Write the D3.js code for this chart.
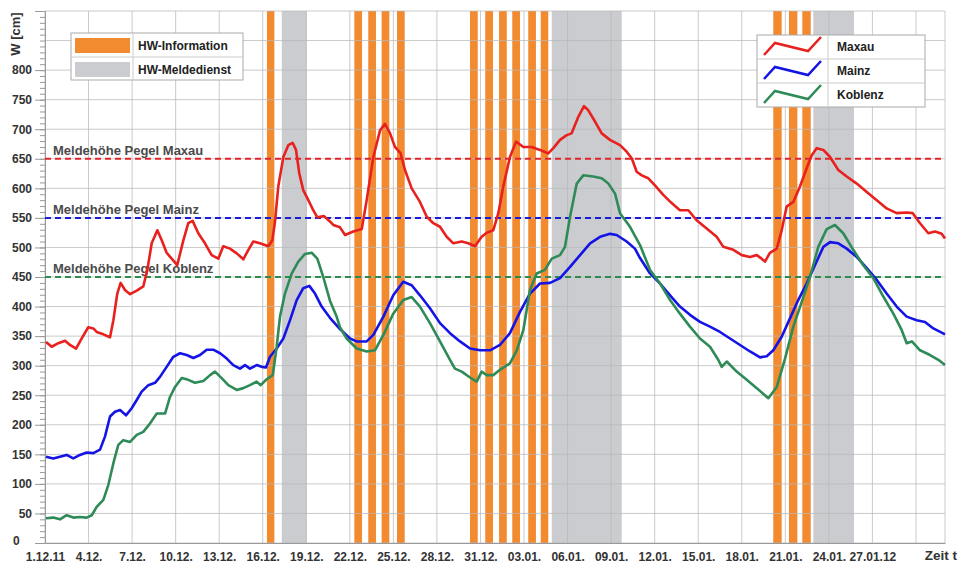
<!DOCTYPE html>
<html>
<head>
<meta charset="utf-8">
<script src="https://cdn.jsdelivr.net/npm/d3@7"></script>
<style>
  body { margin: 0; background: #fff; }
  svg text { font-family: "Liberation Sans", Arial, sans-serif; font-weight: bold; }
</style>
</head>
<body>
<svg id="chart" width="959" height="565"></svg>
<script>
// x axis: days since 1.12.2011
const tickLabels = ['1.12.11', '4.12.', '7.12.', '10.12.', '13.12.', '16.12.', '19.12.', '22.12.', '25.12.', '28.12.',
  '31.12.', '03.01.', '06.01.', '09.01.', '12.01.', '15.01.', '18.01.', '21.01.', '24.01.', '27.01.12'];
const yTicks = [0, 50, 100, 150, 200, 250, 300, 350, 400, 450, 500, 550, 600, 650, 700, 750, 800];

// HW-Information periods [start, end] in days
const hwInfo = [[15.29, 15.80], [21.31, 21.84], [22.27, 22.80], [23.19, 23.72], [24.25, 24.78],
  [29.28, 29.81], [30.33, 30.86], [31.28, 31.81], [32.19, 32.72], [33.29, 33.82], [34.15, 34.67],
  [50.17, 50.75], [51.25, 51.83], [52.17, 52.75]];
// HW-Meldedienst periods
const hwMelde = [[16.31, 18.03], [34.91, 39.73], [52.93, 55.73]];

// Meldehöhen
const levels = [
  { name: 'Meldehöhe Pegel Maxau', value: 650, color: '#e0242a' },
  { name: 'Meldehöhe Pegel Mainz', value: 550, color: '#1b1bd6' },
  { name: 'Meldehöhe Pegel Koblenz', value: 450, color: '#2e8b4f' }
];

// water levels [day, W cm]
const maxau = [[0.07,340],[0.46,332],[0.92,338],[1.38,342],[1.72,335],[2.14,329],[2.53,346],[2.98,365],[3.33,363],
  [3.56,357],[4.02,353],[4.48,348],[4.71,377],[4.98,422],[5.21,440],[5.51,428],[5.86,421],[6.32,427],[6.77,434],
  [7.05,462],[7.35,507],[7.74,529],[8.04,512],[8.38,491],[8.80,479],[9.11,470],[9.53,512],[9.87,541],[10.17,545],
  [10.56,524],[11.02,507],[11.48,487],[11.94,481],[12.28,502],[12.74,498],[13.21,490],[13.66,480],[14.01,496],
  [14.35,510],[14.81,507],[15.38,502],[15.66,512],[15.84,543],[16.07,603],[16.42,653],[16.76,673],[17.06,677],
  [17.29,665],[17.52,625],[17.79,597],[18.14,580],[18.48,563],[18.76,551],[19.22,553],[19.63,544],[19.86,538],
  [20.32,534],[20.67,521],[21.24,527],[21.82,531],[22.16,580],[22.62,653],[23.08,698],[23.42,709],[23.77,693],
  [24.11,670],[24.50,659],[24.80,631],[25.26,600],[25.83,577],[26.30,552],[26.75,541],[27.21,535],[27.67,518],
  [28.13,507],[28.71,510],[29.16,507],[29.62,502],[30.08,518],[30.43,525],[30.88,529],[31.23,558],[31.57,603],
  [32.03,653],[32.45,679],[32.95,670],[33.53,670],[34.10,665],[34.67,659],[35.02,668],[35.48,682],[35.94,690],
  [36.28,693],[36.74,721],[37.13,739],[37.43,732],[37.89,713],[38.35,693],[38.92,682],[39.61,673],[40.07,662],
  [40.42,651],[40.76,628],[41.11,622],[41.56,617],[42.02,605],[42.59,589],[43.17,575],[43.74,563],[44.32,563],
  [44.89,546],[45.58,532],[46.27,518],[46.73,501],[47.42,496],[48.00,487],[48.57,484],[49.03,487],[49.37,481],
  [49.60,476],[49.94,491],[50.41,498],[50.75,529],[51.09,569],[51.55,577],[52.01,603],[52.47,634],[52.82,656],
  [53.16,668],[53.62,665],[54.08,653],[54.65,631],[55.23,620],[55.92,608],[56.61,594],[57.30,580],[57.98,566],
  [58.67,558],[59.36,559],[59.78,558],[60.28,541],[60.85,524],[61.31,527],[61.77,523],[62.0,515]];

const mainz = [[0.07,146],[0.57,143],[1.03,146],[1.49,149],[1.95,143],[2.41,149],[2.87,153],[3.33,152],[3.79,158],
  [4.13,180],[4.48,214],[4.82,222],[5.17,225],[5.58,216],[5.97,228],[6.32,242],[6.66,256],[7.12,267],[7.58,271],
  [7.92,281],[8.38,298],[8.84,315],[9.30,321],[9.76,318],[10.22,313],[10.68,318],[11.14,327],[11.59,327],
  [12.06,321],[12.52,312],[12.97,301],[13.43,295],[13.78,301],[14.12,295],[14.58,301],[14.93,298],[15.22,297],
  [15.50,315],[15.96,329],[16.42,346],[16.88,377],[17.34,411],[17.79,431],[18.21,435],[18.60,422],[19.06,400],
  [19.63,381],[20.32,362],[21.01,346],[21.47,341],[22.16,341],[22.62,352],[23.31,383],[23.99,419],[24.68,442],
  [25.26,436],[25.83,419],[26.52,397],[27.21,372],[27.90,355],[28.59,341],[29.28,329],[29.97,326],[30.66,326],
  [31.34,335],[32.03,355],[32.72,391],[33.41,422],[34.10,439],[34.79,440],[35.48,448],[36.17,467],[36.86,487],
  [37.55,507],[38.24,518],[38.92,523],[39.38,521],[40.07,510],[40.64,498],[40.99,482],[41.68,456],[42.37,439],
  [43.06,419],[43.74,400],[44.43,386],[45.12,374],[45.81,366],[46.50,357],[47.19,346],[47.88,335],[48.57,324],
  [49.26,314],[49.72,316],[50.17,326],[50.75,349],[51.32,380],[51.89,411],[52.47,439],[53.04,470],[53.62,501],
  [54.08,509],[54.65,507],[55.23,498],[55.92,484],[56.61,465],[57.30,445],[57.98,422],[58.67,400],[59.36,383],
  [60.05,377],[60.62,374],[61.20,363],[62.0,353]];

const koblenz = [[0.07,42],[0.57,43],[1.03,40],[1.49,47],[1.95,43],[2.41,44],[2.87,43],[3.22,47],[3.56,61],
  [4.02,73],[4.36,98],[4.71,135],[5.05,166],[5.39,174],[5.86,171],[6.32,183],[6.77,188],[7.23,202],[7.70,219],
  [8.27,219],[8.61,247],[8.96,264],[9.42,279],[9.87,276],[10.33,271],[10.91,274],[11.37,284],[11.71,290],
  [12.17,279],[12.63,267],[13.21,259],[13.66,262],[14.12,267],[14.58,273],[14.86,267],[15.27,277],[15.69,284],
  [15.96,332],[16.19,383],[16.53,422],[17.00,456],[17.45,476],[17.91,489],[18.37,491],[18.76,481],[19.17,450],
  [19.63,410],[20.09,383],[20.32,365],[20.78,346],[21.47,329],[22.16,324],[22.73,326],[23.31,352],[23.99,388],
  [24.68,411],[25.26,416],[25.83,400],[26.52,372],[27.21,341],[27.90,310],[28.24,295],[28.71,290],[29.28,280],
  [29.74,273],[30.08,290],[30.43,284],[30.88,284],[31.34,293],[32.03,304],[32.50,326],[32.95,360],[33.41,428],
  [33.87,456],[34.44,462],[34.91,481],[35.48,487],[35.82,501],[36.17,552],[36.63,608],[37.08,622],[37.77,620],
  [38.35,617],[38.81,608],[39.27,591],[39.61,558],[40.30,535],[40.99,504],[41.68,462],[42.37,439],[43.06,411],
  [43.74,388],[44.43,366],[45.12,346],[45.81,332],[46.38,310],[46.62,298],[46.96,307],[47.65,290],[48.34,276],
  [49.03,262],[49.83,245],[50.41,264],[50.98,312],[51.55,366],[52.13,408],[52.70,450],[53.27,501],[53.85,531],
  [54.42,538],[54.99,524],[55.68,496],[56.37,470],[57.06,448],[57.75,417],[58.44,388],[59.02,360],[59.36,338],
  [59.72,341],[60.28,326],[60.97,318],[61.54,310],[62.0,301]];

const series = [
  { name: 'Maxau', data: maxau, color: '#e8211f' },
  { name: 'Mainz', data: mainz, color: '#1414e6' },
  { name: 'Koblenz', data: koblenz, color: '#2e8b57' }
];

const svg = d3.select('#chart');
const plotLeft = 45, plotRight = 945, plotTop = 11, plotBottom = 543;

const x = d3.scaleLinear().domain([0, 62]).range([plotLeft, plotRight]);
const y = d3.scaleLinear().domain([0, 900]).range([plotBottom, plotTop]);

// periods
svg.append('g').selectAll('rect').data(hwMelde).join('rect')
  .attr('x', d => x(d[0])).attr('width', d => x(d[1]) - x(d[0]))
  .attr('y', plotTop).attr('height', plotBottom - plotTop)
  .attr('fill', '#cbccd0');

svg.append('g').selectAll('rect').data(hwInfo).join('rect')
  .attr('x', d => x(d[0])).attr('width', d => x(d[1]) - x(d[0]))
  .attr('y', plotTop).attr('height', plotBottom - plotTop)
  .attr('fill', '#f28a30');

// grid
const grid = svg.append('g').attr('stroke', '#b8b8b8').attr('stroke-opacity', 0.75);
grid.selectAll('.h').data(d3.range(0, 901, 50)).join('line').attr('class', 'h')
  .attr('x1', plotLeft).attr('x2', plotRight).attr('y1', d => y(d)).attr('y2', d => y(d));
grid.selectAll('.v').data(d3.range(0, 61, 3).concat([62])).join('line').attr('class', 'v')
  .attr('y1', plotTop).attr('y2', plotBottom).attr('x1', d => x(d)).attr('x2', d => x(d));

// y axis
const yMinor = svg.append('g').attr('transform', `translate(${plotLeft},0)`)
  .call(d3.axisLeft(y).tickValues(d3.range(0, 901, 10)).tickSize(5).tickFormat(''));
yMinor.select('.domain').remove();
yMinor.selectAll('line').attr('stroke', '#999');

const yAxis = svg.append('g').attr('transform', `translate(${plotLeft},0)`)
  .call(d3.axisLeft(y).tickValues(yTicks).tickSize(10).tickPadding(3));
yAxis.select('.domain').attr('stroke', '#999');
yAxis.selectAll('line').attr('stroke', '#999');
yAxis.selectAll('text').attr('font-size', 12).attr('fill', '#333');
// the zero label sits further left, clear of the first date
yAxis.selectAll('.tick').filter(d => d === 0).select('text')
  .attr('x', -32).attr('text-anchor', 'start').attr('dy', '0.1em');

svg.append('text')
  .attr('transform', 'translate(17,34) rotate(-90)')
  .attr('text-anchor', 'middle').attr('dominant-baseline', 'middle')
  .attr('font-size', 13).attr('fill', '#333')
  .text('W [cm]');

// x axis
const xAxis = svg.append('g').attr('transform', `translate(0,${plotBottom})`)
  .call(d3.axisBottom(x).tickValues(d3.range(0, 58, 3)).tickFormat((d, i) => tickLabels[i])
    .tickSize(0).tickPadding(9));
xAxis.select('.domain').attr('stroke', '#999');
xAxis.selectAll('text').attr('font-size', 12).attr('fill', '#333');

svg.append('text')
  .attr('x', 957).attr('y', 560)
  .attr('text-anchor', 'end').attr('font-size', 13.5).attr('fill', '#333')
  .text('Zeit t');

// Meldehöhen
svg.append('g').selectAll('line').data(levels).join('line')
  .attr('x1', plotLeft).attr('x2', plotRight)
  .attr('y1', d => y(d.value)).attr('y2', d => y(d.value))
  .attr('stroke', d => d.color).attr('stroke-width', 2)
  .attr('stroke-dasharray', '6,4');

svg.append('g').selectAll('text').data(levels).join('text')
  .attr('x', 53).attr('y', d => y(d.value) - 4)
  .attr('font-size', 13).attr('fill', '#4a4a4a')
  .text(d => d.name);

// lines
const line = d3.line().x(d => x(d[0])).y(d => y(d[1]));
svg.append('g').selectAll('path').data(series).join('path')
  .attr('d', d => line(d.data))
  .attr('fill', 'none')
  .attr('stroke', d => d.color)
  .attr('stroke-width', 2.6)
  .attr('stroke-linejoin', 'round');

// legend: periods
const lg1 = svg.append('g').attr('transform', 'translate(71,33)');
lg1.append('rect').attr('width', 172).attr('height', 47)
  .attr('fill', '#fff').attr('stroke', '#aaa');
lg1.append('line').attr('x1', 62).attr('x2', 62).attr('y1', 0).attr('y2', 47).attr('stroke', '#ccc');
lg1.append('line').attr('x1', 0).attr('x2', 172).attr('y1', 24).attr('y2', 24).attr('stroke', '#ccc');
const periodLegend = [{ label: 'HW-Information', color: '#f28a30' }, { label: 'HW-Meldedienst', color: '#cbccd0' }];
periodLegend.forEach((p, i) => {
  lg1.append('rect').attr('x', 4).attr('y', 5 + i * 24).attr('width', 55).attr('height', 15).attr('fill', p.color);
  lg1.append('text').attr('x', 67).attr('y', 17 + i * 24).attr('font-size', 12).attr('fill', '#222').text(p.label);
});

// legend: series
const lg2 = svg.append('g').attr('transform', 'translate(757,35)');
lg2.append('rect').attr('width', 168).attr('height', 72)
  .attr('fill', '#fff').attr('stroke', '#aaa');
lg2.append('line').attr('x1', 71).attr('x2', 71).attr('y1', 0).attr('y2', 72).attr('stroke', '#ccc');
[24, 48].forEach(yy => lg2.append('line').attr('x1', 0).attr('x2', 168).attr('y1', yy).attr('y2', yy).attr('stroke', '#ccc'));
series.forEach((s, i) => {
  const oy = i * 24;
  lg2.append('path')
    .attr('d', d3.line()([[7, oy + 20], [18, oy + 8], [51, oy + 16], [64, oy + 2]]))
    .attr('fill', 'none').attr('stroke', s.color).attr('stroke-width', 2.5);
  lg2.append('text').attr('x', 80).attr('y', oy + 16).attr('font-size', 12).attr('fill', '#222').text(s.name);
});
</script>
</body>
</html>
